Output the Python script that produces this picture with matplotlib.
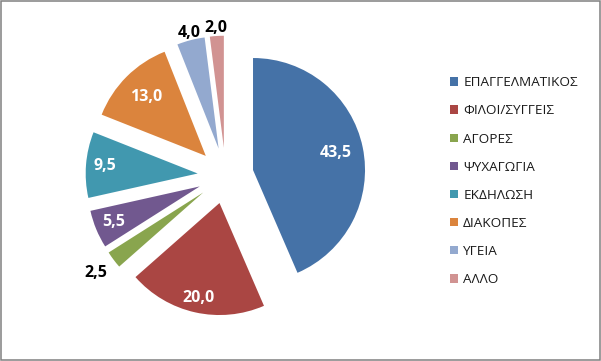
import matplotlib
matplotlib.use('Agg')
import matplotlib.pyplot as plt
from matplotlib.patches import Rectangle
import numpy as np

# --- дані діаграми ---
categories = ['ΕΠΑΓΓΕΛΜΑΤΙΚΟΣ', 'ΦΙΛΟΙ/ΣΥΓΓΕΙΣ', 'ΑΓΟΡΕΣ', 'ΨΥΧΑΓΩΓΙΑ',
              'ΕΚΔΗΛΩΣΗ', 'ΔΙΑΚΟΠΕΣ', 'ΥΓΕΙΑ', 'ΑΛΛΟ']
values = [43.5, 20.0, 2.5, 5.5, 9.5, 13.0, 4.0, 2.0]
value_labels = ['43,5', '20,0', '2,5', '5,5', '9,5', '13,0', '4,0', '2,0']

colors = ['#4572A7', '#AA4643', '#89A54E', '#71588F',
          '#4198AF', '#DB843D', '#93A9CF', '#D19392']
# відстань підпису від вершини сектора (частка радіуса) та колір підпису
lab_dist = [0.75, 0.87, 1.2, 0.83, 0.83, 0.75, 1.07, 1.07]
lab_col = ['white', 'white', 'black', 'white', 'white', 'white', 'black', 'black']

W, H = 601, 361
fig = plt.figure(figsize=(W / 100, H / 100), dpi=100)
ax = fig.add_axes([0, 0, 1, 1])

R = 112          # радіус у пікселях
EXPL = 28        # зсув секторів (в одиницях даних = пікселі)
cx, cy = 225.6, H - 175.7

wedges, texts = ax.pie(values, colors=colors, startangle=90, counterclock=False,
                       explode=[EXPL] * len(values), radius=R, center=(cx, cy),
                       frame=True, wedgeprops=dict(linewidth=0))
ax.axis('off')
ax.set_xlim(0, W)
ax.set_ylim(0, H)
ax.set_aspect('equal')

for w, lab, d, c in zip(wedges, value_labels, lab_dist, lab_col):
    th = np.deg2rad((w.theta1 + w.theta2) / 2)
    x0, y0 = w.center
    ax.text(x0 + d * R * np.cos(th), y0 + d * R * np.sin(th), lab,
            ha='center', va='center', color=c, fontsize=11.5,
            fontweight='bold', family=['Open Sans', 'DejaVu Sans'], zorder=5)

leg = fig.legend(wedges, categories, loc='upper left',
                 bbox_to_anchor=(445 / W, 1 - 71 / H), frameon=False,
                 prop=dict(family=['Open Sans', 'DejaVu Sans'], size=9.7),
                 handlelength=0.6, handleheight=0.6, handletextpad=0.35,
                 labelspacing=1.12, borderaxespad=0)
for t in leg.get_texts():
    t.set_color('#1a1a1a')

# рамка навколо діаграми
fig.patches.append(Rectangle((0.75 / W, 0.75 / H), 1 - 1.5 / W, 1 - 1.5 / H,
                             transform=fig.transFigure, fill=False,
                             edgecolor='#808080', linewidth=1.1))

fig.savefig('out.png', dpi=100)
